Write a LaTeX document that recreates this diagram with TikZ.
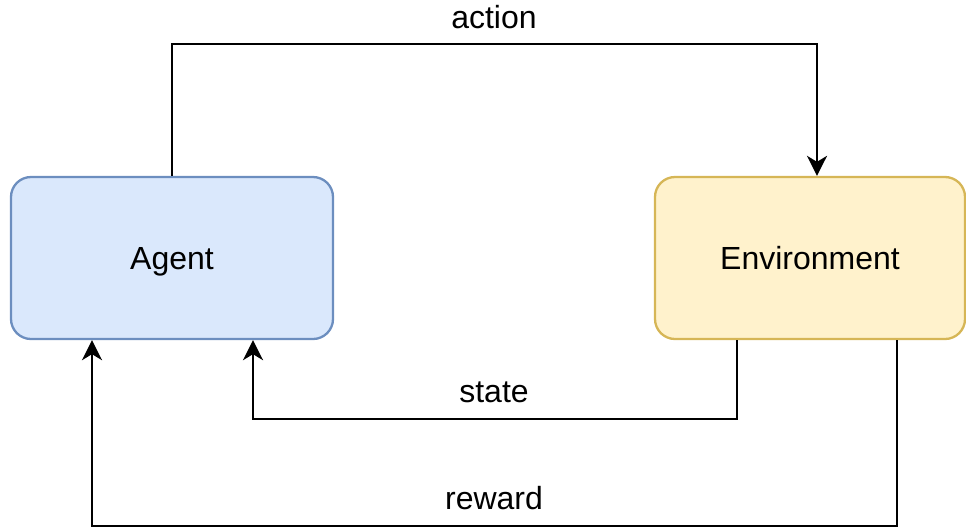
\documentclass[tikz,border=0pt]{standalone}
\usepackage{fontspec}
\setmainfont{Liberation Sans}
\usetikzlibrary{arrows.meta}
\definecolor{agentfill}{HTML}{DAE8FC}
\definecolor{agentdraw}{HTML}{6C8EBF}
\definecolor{envfill}{HTML}{FFF2CC}
\definecolor{envdraw}{HTML}{D6B656}
\begin{document}
\begin{tikzpicture}[x=1pt,y=-1pt,
  box/.style={rounded corners=20pt,line width=2.3pt,minimum width=322pt,minimum height=162pt,inner sep=0pt,text height=23pt,text depth=1pt,font=\fontsize{32}{38}\selectfont},
  conn/.style={line width=2.8pt,-{Stealth[length=20pt,width=20pt,inset=6pt]}},
  lbl/.style={font=\fontsize{32}{38}\selectfont,inner sep=0pt}]
\useasboundingbox (0,0) rectangle (966,528);
\node[box,fill=agentfill,draw=agentdraw] (agent) at (172,258) {Agent};
\node[box,fill=envfill,draw=envdraw,minimum width=310pt] (env) at (810,258) {Environment};
\coordinate (a1) at (172,44);
\coordinate (a2) at (817,44);
\draw[conn] (agent.north) -- (a1) -- (a2) -- (a2 |- env.north);
\coordinate (s1) at (737,419);
\coordinate (s2) at (253,419);
\draw[conn] (s1 |- env.south) -- (s1) -- (s2) -- (s2 |- agent.south);
\coordinate (r1) at (897,526);
\coordinate (r2) at (92,526);
\draw[conn] (r1 |- env.south) -- (r1) -- (r2) -- (r2 |- agent.south);
\node[lbl] (lact) at (494,17) {action};
\node[lbl] (lstate) at (494,392) {state};
\node[lbl] (lrew) at (494,498) {reward};
\end{tikzpicture}
\end{document}
